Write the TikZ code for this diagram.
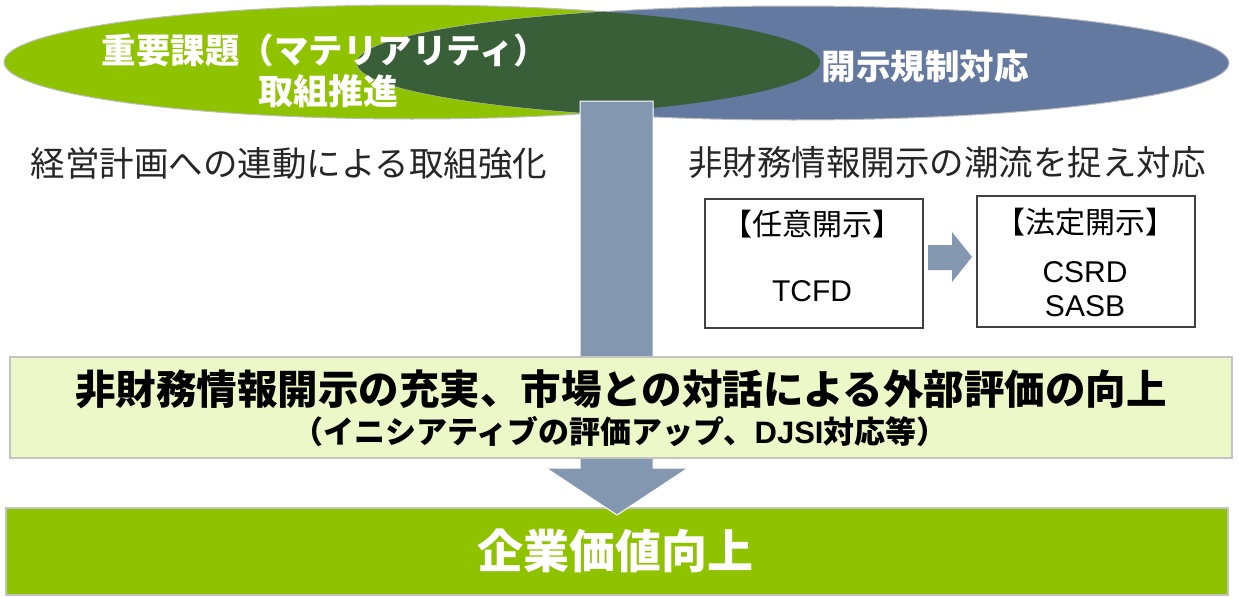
\documentclass[tikz,border=0pt]{standalone}
\usepackage{fontspec}
\setmainfont{Liberation Sans}
\newfontfamily\jp{Noto Sans CJK JP}
\newfontfamily\lsans{Liberation Sans}
\usetikzlibrary{shapes.geometric}
\definecolor{matgreen}{RGB}{143,195,0}
\definecolor{overlapgreen}{RGB}{56,95,56}
\definecolor{disblue}{RGB}{100,121,160}
\definecolor{arrowc}{RGB}{132,151,176}
\definecolor{palegreen}{RGB}{236,248,200}
\definecolor{ellgray}{RGB}{190,190,190}
\definecolor{boxgray}{RGB}{195,195,195}
\definecolor{darktext}{RGB}{38,38,38}
\begin{document}
\begin{tikzpicture}[x=1pt,y=-1pt,
  txt/.style={inner sep=0pt,outer sep=0pt},
  wbold/.style={txt,text=white,font=\jp\bfseries\fontsize{34.5}{34.5}\selectfont},
  subtitle/.style={txt,text=darktext,font=\jp\fontsize{34.5}{34.5}\selectfont},
  smallbox/.style={draw=black!75,line width=1.3pt,fill=white,minimum width=218pt,inner sep=0pt},
  boxhead/.style={txt,text=black,font=\jp\fontsize{30}{30}\selectfont},
  boxbody/.style={txt,text=black,font=\lsans\fontsize{30}{30}\selectfont},
  blockarrow/.style={fill=arrowc,draw=white,line width=1pt}]
\useasboundingbox (0,0) rectangle (1239,597);
\fill[white] (0,0) rectangle (1239,597);
% ellipses
\node[ellipse,draw=ellgray,line width=1pt,fill=matgreen,minimum width=816pt,minimum height=114pt,inner sep=0pt] (mat) at (412,62) {};
\node[ellipse,draw=ellgray,line width=1pt,fill=disblue,minimum width=872pt,minimum height=114pt,inner sep=0pt] (reg) at (793,63) {};
\begin{scope}
  \clip (412,62) ellipse [x radius=408pt,y radius=57pt];
  \fill[overlapgreen] (793,63) ellipse [x radius=436pt,y radius=57pt];
\end{scope}
\node[wbold] (matA) at (325,50) {重要課題（マテリアリティ）};
\node[wbold,font=\jp\bfseries\fontsize{35}{35}\selectfont] (matB) at (328,91) {取組推進};
\node[wbold] (regT) at (925,66) {開示規制対応};
% subtitles
\node[subtitle] (subL) at (289,163) {経営計画への連動による取組強化};
\node[subtitle] (subR) at (947,163) {非財務情報開示の潮流を捉え対応};
% disclosure boxes
\node[smallbox,minimum height=129pt] (vol) at (814,263.5) {};
\node[smallbox,minimum height=131pt] (leg) at (1086,261.5) {};
\node[boxhead] (volH) at (812,224) {【任意開示】};
\node[boxbody] (volB) at (812,291) {TCFD};
\node[boxhead] (legH) at (1085,222) {【法定開示】};
\node[boxbody] (legB1) at (1085,272) {CSRD};
\node[boxbody] (legB2) at (1085,306) {SASB};
\fill[arrowc] (928,245) -- (952,245) -- (952,232) -- (972,257) -- (952,282) -- (952,270) -- (928,270) -- cycle;
% bottom box
\node[draw=boxgray,line width=1.2pt,fill=matgreen,minimum width=1222pt,minimum height=87pt,inner sep=0pt] (value) at (617,551.5) {};
% big arrow
\draw[blockarrow] (580,101) -- (653,101) -- (653,468) -- (688,468) -- (617,515) -- (546,468) -- (580,468) -- cycle;
% middle box
\node[draw=boxgray,line width=1.2pt,fill=palegreen,minimum width=1222pt,minimum height=101pt,inner sep=0pt] (mid) at (621,407.5) {};
\node[txt,text=black,font=\jp\bfseries\fontsize{40.5}{40.5}\selectfont] (midA) at (621,389) {非財務情報開示の充実、市場との対話による外部評価の向上};
\node[txt,text=black,font=\jp\bfseries\fontsize{31}{31}\selectfont] (midB) at (620,432) {（イニシアティブの評価アップ、{\lsans\bfseries DJSI}対応等）};
\node[txt,text=white,font=\jp\bfseries\fontsize{46}{46}\selectfont] (valT) at (615,551) {企業価値向上};
\end{tikzpicture}
\end{document}
